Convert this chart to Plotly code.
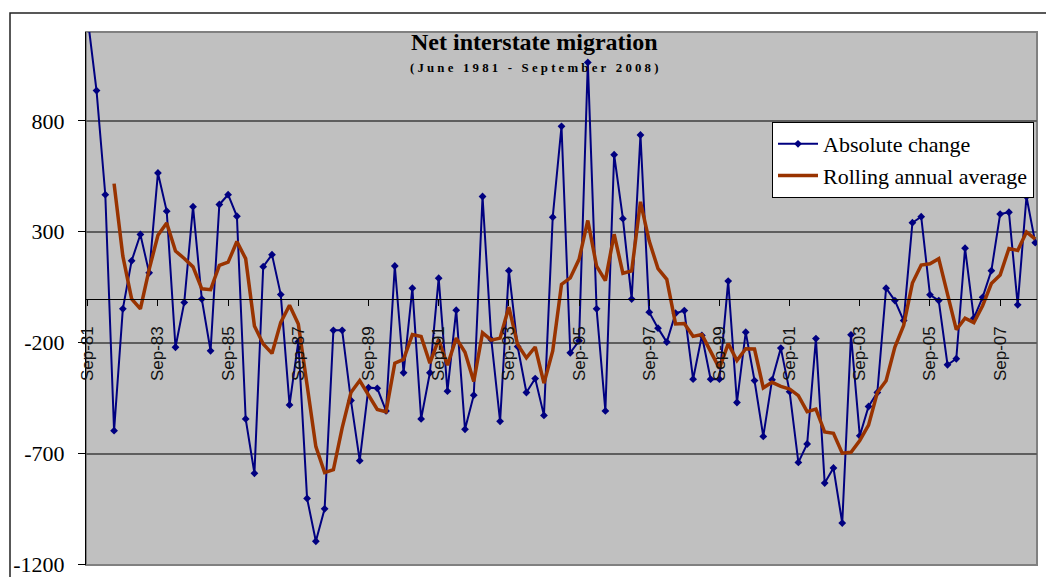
import plotly.graph_objects as go

# Quarterly net interstate migration, first quarter shown is Sep-81
ABSOLUTE_CHANGE = [
    1260, 936, 467, -596, -47, 169, 288, 115, 565, 393,
    -220, -18, 413, -3, -236, 423, 467, 370, -543, -788,
    143, 197, 17, -480, -195, -901, -1094, -948, -144, -144,
    -460, -731, -402, -405, -507, 146, -335, 46, -543, -335,
    91, -418, -53, -590, -436, 459, -186, -554, 125, -217,
    -424, -361, -527, 366, 775, -245, -191, 1063, -47, -507,
    647, 359, -3, 736, -62, -134, -197, -67, -55, -364,
    -167, -364, -364, 78, -469, -152, -370, -622, -367, -224,
    -420, -739, -656, -181, -832, -764, -1012, -164, -619, -487,
    -424, 46, -10, -100, 341, 368, 16, -10, -299, -272,
    226, -89, 5, 125, 380, 388, -29, 458, 251,
]

# Four-quarter rolling average, available from the fourth quarter onwards
ROLLING_START = 3
ROLLING_AVERAGE = [
    517, 190, -2, -47, 131, 284, 340, 213, 180, 142,
    43, 39, 149, 163, 256, 179, -124, -205, -248, -108,
    -31, -115, -390, -668, -785, -772, -583, -424, -370, -434,
    -500, -511, -292, -275, -163, -172, -292, -185, -301, -179,
    -243, -374, -155, -188, -179, -39, -208, -268, -219, -382,
    -237, 63, 92, 176, 351, 145, 80, 289, 113, 124,
    435, 258, 134, 86, -115, -113, -171, -163, -238, -315,
    -204, -280, -227, -228, -403, -378, -396, -408, -438, -510,
    -499, -602, -608, -697, -693, -640, -571, -424, -371, -219,
    -122, 69, 150, 156, 179, 19, -141, -89, -109, -33,
    67, 105, 225, 216, 299, 267,
]

TICK_LABELS = ["Sep-81", "Sep-83", "Sep-85", "Sep-87", "Sep-89", "Sep-91", "Sep-93",
               "Sep-95", "Sep-97", "Sep-99", "Sep-01", "Sep-03", "Sep-05", "Sep-07"]
TICK_STEP = 8  # quarters between labels
Y_TICKS = [-1200, -700, -200, 300, 800]
Y_TICK_TEXT = ["-1200", "-700", "-200", "300", "800"]

quarters = list(range(len(ABSOLUTE_CHANGE)))
rolling_x = quarters[ROLLING_START:ROLLING_START + len(ROLLING_AVERAGE)]

W, H = 1046, 577
ML, MR, MT, MB = 86, 9, 32, 12
plot_w = W - ML - MR
plot_h = H - MT - MB


def px_x(px):
    return (px - ML) / plot_w


def px_y(py):
    return (H - MB - py) / plot_h


fig = go.Figure()
fig.add_trace(go.Scatter(
    x=quarters, y=ABSOLUTE_CHANGE, mode="lines+markers",
    name="Absolute change",
    line=dict(color="#000080", width=2),
    marker=dict(symbol="diamond", size=6, color="#000080"),
))
fig.add_trace(go.Scatter(
    x=rolling_x, y=ROLLING_AVERAGE, mode="lines",
    name="Rolling annual average",
    line=dict(color="#993300", width=3.5),
))

serif = "Liberation Serif"
sans = "Liberation Sans"

fig.update_layout(
    width=W, height=H, autosize=False,
    margin=dict(l=ML, r=MR, t=MT, b=MB, pad=0, autoexpand=False),
    paper_bgcolor="white",
    plot_bgcolor="#C0C0C0",
    showlegend=True,
    legend=dict(
        x=px_x(1034), y=px_y(122), xanchor="right", yanchor="top",
        bgcolor="white", bordercolor="black", borderwidth=1,
        font=dict(family=serif, size=22, color="black"),
        tracegroupgap=0, itemwidth=40,
    ),
    xaxis=dict(
        range=[-0.2, len(ABSOLUTE_CHANGE) - 1 + 0.2],
        anchor="free", position=0.5, automargin=False,
        showgrid=False, zeroline=False,
        showline=True, linecolor="black", linewidth=1,
        ticks="outside", ticklen=6, tickcolor="black",
        tickvals=[i * TICK_STEP for i in range(len(TICK_LABELS))],
        ticktext=TICK_LABELS,
        tickangle=-90,
        ticklabelstandoff=14,
        tickfont=dict(family=sans, size=17, color="#111"),
    ),
    yaxis=dict(
        range=[-1201, 1200], automargin=False,
        tickvals=Y_TICKS, ticktext=Y_TICK_TEXT,
        showgrid=True, gridcolor="#5e5e5e", gridwidth=1.5,
        zeroline=False,
        showline=True, linecolor="black", linewidth=1,
        ticks="outside", ticklen=7, tickcolor="black",
        ticklabelstandoff=9, ticklabeloverflow="allow",
        tickfont=dict(family=serif, size=22, color="black"),
    ),
)

# plot-area frame and outer chart frame
fig.add_shape(type="rect", xref="paper", yref="paper", x0=0, x1=1, y0=0, y1=1,
              line=dict(color="#808080", width=2), layer="below")
fig.add_shape(type="rect", xref="paper", yref="paper",
              x0=px_x(10), x1=px_x(1060), y0=px_y(590), y1=px_y(13),
              line=dict(color="#222", width=1.5))

NB = "\u00a0"
subtitle_words = ["(June", "1981", "-", "September", "2008)"]
subtitle = (NB * 3).join(NB.join(word) for word in subtitle_words)

fig.add_annotation(
    text="<b>Net interstate migration</b>", xref="paper", yref="paper",
    x=px_x(534), y=px_y(42), xanchor="center", yanchor="middle", showarrow=False,
    font=dict(family=serif, size=24, color="black"),
)
fig.add_annotation(
    text="<b>" + subtitle + "</b>",
    xref="paper", yref="paper",
    x=px_x(534), y=px_y(68), xanchor="center", yanchor="middle", showarrow=False,
    font=dict(family=serif, size=12.8, color="black"),
)

fig.write_html("out.html")
